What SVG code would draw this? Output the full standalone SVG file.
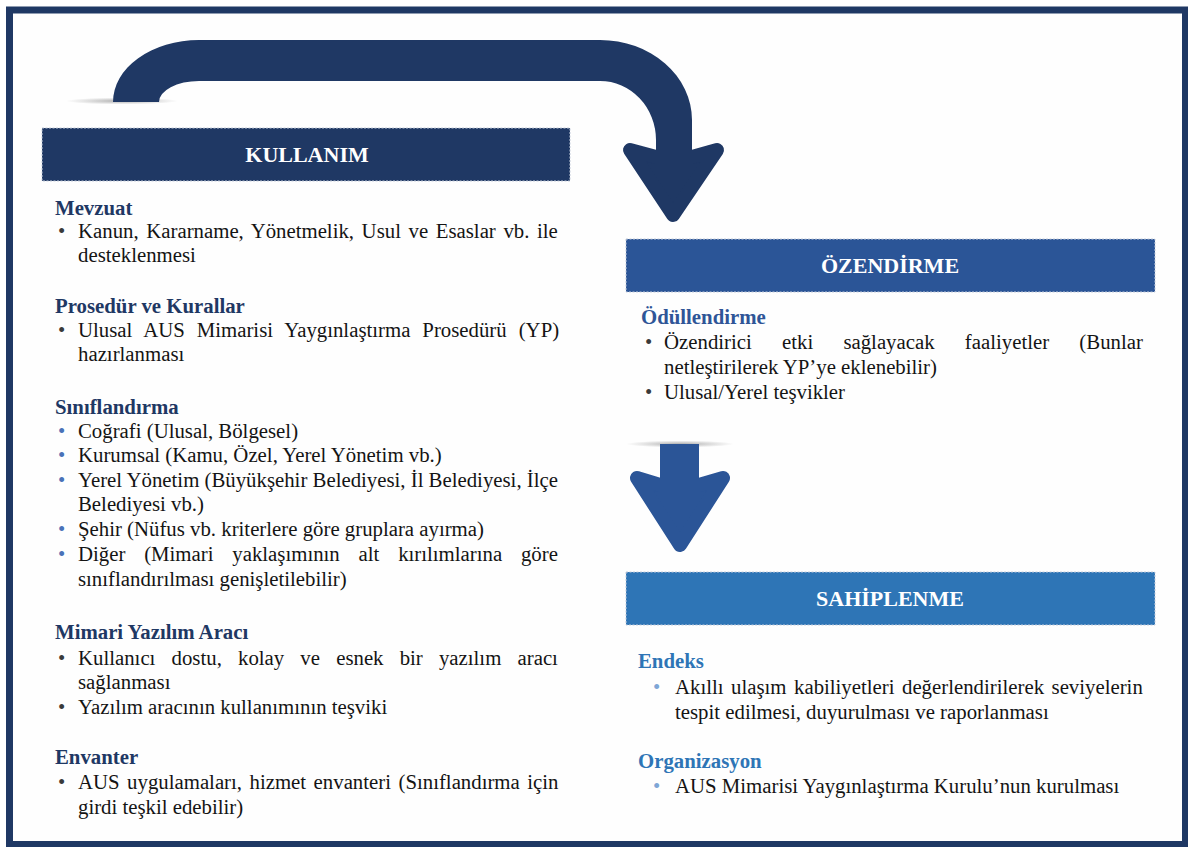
<svg xmlns="http://www.w3.org/2000/svg" width="1188" height="847" viewBox="0 0 1188 847">
  <defs>
    <style>
      .t { font-family: "Liberation Serif", "Times New Roman", serif; font-size: 20.8px; fill: #141414; }
      .h { font-family: "Liberation Serif", "Times New Roman", serif; font-size: 20.8px; font-weight: bold; }
      .h1 { fill: #1f3864; }
      .h2 { fill: #2f5597; }
      .h3 { fill: #2e75b6; }
      .title { font-family: "Liberation Serif", "Times New Roman", serif; font-size: 22px; font-weight: bold; fill: #ffffff; text-anchor: middle; }
      .bar { stroke: #c4ccda; stroke-width: 1; stroke-dasharray: 2 1.5; }
      .b0 { fill: #3a3a3a; }
      .b1 { fill: #4a72b8; }
      .b2 { fill: #7ea6d6; }
    </style>
    <radialGradient id="shade" cx="0.5" cy="0.5" r="0.5">
      <stop offset="0" stop-color="#6f6f6f" stop-opacity="0.55"/>
      <stop offset="1" stop-color="#6f6f6f" stop-opacity="0"/>
    </radialGradient>
  </defs>

  <!-- page -->
  <rect x="0" y="0" width="1188" height="847" fill="#ffffff"/>
  <rect x="9.5" y="10" width="1176" height="834.5" fill="#fefefe" stroke="#1f3864" stroke-width="7"/>

  <!-- connectors -->
  <g id="connectors">
    <!-- curved arrow: KULLANIM -> ÖZENDİRME -->
    <g id="arrow-curved" fill="#1f3864">
      <ellipse cx="122" cy="101" rx="56" ry="3.5" fill="url(#shade)"/>
      <path d="M113,102 A86,62 0 0 1 199,40 L600,40 A92,80 0 0 1 692,120 L692,157 L656,157 L656,140 A56,59 0 0 0 600,81 L199,81 A40,21 0 0 0 159,102 Z"/>
      <polygon points="630,150 656,157 692,157 717,150 673,215" stroke="#1f3864" stroke-width="14" stroke-linejoin="round"/>
    </g>
    <!-- straight arrow: ÖZENDİRME -> SAHİPLENME -->
    <g id="arrow-down" fill="#2b5597">
      <ellipse cx="680" cy="444" rx="54" ry="3.5" fill="url(#shade)"/>
      <rect x="660" y="444" width="39" height="44"/>
      <polygon points="637,478 660,485 699,485 723,478 680,545" stroke="#2b5597" stroke-width="14" stroke-linejoin="round"/>
    </g>
  </g>

  <!-- KULLANIM -->
  <g id="kullanim">
    <rect class="bar" x="42" y="128" width="528" height="53" fill="#1f3864"/>
    <text class="title" x="307" y="162">KULLANIM</text>

    <text class="h h1" x="55" y="215">Mevzuat</text>
    <text class="t b0" x="58" y="238">•</text>
    <text class="t" x="78" y="238" word-spacing="2.4">Kanun, Kararname, Yönetmelik, Usul ve Esaslar vb. ile</text>
    <text class="t" x="78" y="262">desteklenmesi</text>

    <text class="h h1" x="55" y="313">Prosedür ve Kurallar</text>
    <text class="t b0" x="58" y="337">•</text>
    <text class="t" x="78" y="337" word-spacing="6.8">Ulusal AUS Mimarisi Yaygınlaştırma Prosedürü (YP)</text>
    <text class="t" x="78" y="361">hazırlanması</text>

    <text class="h h1" x="55" y="414">Sınıflandırma</text>
    <text class="t b1" x="58" y="438">•</text>
    <text class="t" x="78" y="438">Coğrafi (Ulusal, Bölgesel)</text>
    <text class="t b1" x="58" y="462">•</text>
    <text class="t" x="78" y="462">Kurumsal (Kamu, Özel, Yerel Yönetim vb.)</text>
    <text class="t b1" x="58" y="487">•</text>
    <text class="t" x="78" y="487" word-spacing="0">Yerel Yönetim (Büyükşehir Belediyesi, İl Belediyesi, İlçe</text>
    <text class="t" x="78" y="511">Belediyesi vb.)</text>
    <text class="t b1" x="58" y="536">•</text>
    <text class="t" x="78" y="536">Şehir (Nüfus vb. kriterlere göre gruplara ayırma)</text>
    <text class="t b1" x="58" y="561">•</text>
    <text class="t" x="78" y="561" word-spacing="13.62">Diğer (Mimari yaklaşımının alt kırılımlarına göre</text>
    <text class="t" x="78" y="586">sınıflandırılması genişletilebilir)</text>

    <text class="h h1" x="55" y="639">Mimari Yazılım Aracı</text>
    <text class="t b0" x="58" y="665">•</text>
    <text class="t" x="78" y="665" word-spacing="10.97">Kullanıcı dostu, kolay ve esnek bir yazılım aracı</text>
    <text class="t" x="78" y="689">sağlanması</text>
    <text class="t b0" x="58" y="714">•</text>
    <text class="t" x="78" y="714">Yazılım aracının kullanımının teşviki</text>

    <text class="h h1" x="55" y="764">Envanter</text>
    <text class="t b0" x="58" y="789">•</text>
    <text class="t" x="78" y="789" word-spacing="2.3">AUS uygulamaları, hizmet envanteri (Sınıflandırma için</text>
    <text class="t" x="78" y="814">girdi teşkil edebilir)</text>
  </g>

  <!-- ÖZENDİRME -->
  <g id="ozendirme">
    <rect class="bar" x="626" y="239" width="529" height="53" fill="#2b5597"/>
    <text class="title" x="890" y="273">ÖZENDİRME</text>

    <text class="h h2" x="641" y="324">Ödüllendirme</text>
    <text class="t b0" x="645" y="349">•</text>
    <text class="t" x="664" y="349" word-spacing="25.02">Özendirici etki sağlayacak faaliyetler (Bunlar</text>
    <text class="t" x="664" y="374">netleştirilerek YP’ye eklenebilir)</text>
    <text class="t b0" x="645" y="399">•</text>
    <text class="t" x="664" y="399">Ulusal/Yerel teşvikler</text>
  </g>

  <!-- SAHİPLENME -->
  <g id="sahiplenme">
    <rect class="bar" x="626" y="572" width="529" height="53" fill="#2e75b6"/>
    <text class="title" x="890" y="606">SAHİPLENME</text>

    <text class="h h3" x="638" y="668">Endeks</text>
    <text class="t b2" x="653" y="694">•</text>
    <text class="t" x="675" y="694" word-spacing="2.31">Akıllı ulaşım kabiliyetleri değerlendirilerek seviyelerin</text>
    <text class="t" x="675" y="719">tespit edilmesi, duyurulması ve raporlanması</text>

    <text class="h h3" x="638" y="768">Organizasyon</text>
    <text class="t b2" x="653" y="793">•</text>
    <text class="t" x="675" y="793">AUS Mimarisi Yaygınlaştırma Kurulu’nun kurulması</text>
  </g>
</svg>
